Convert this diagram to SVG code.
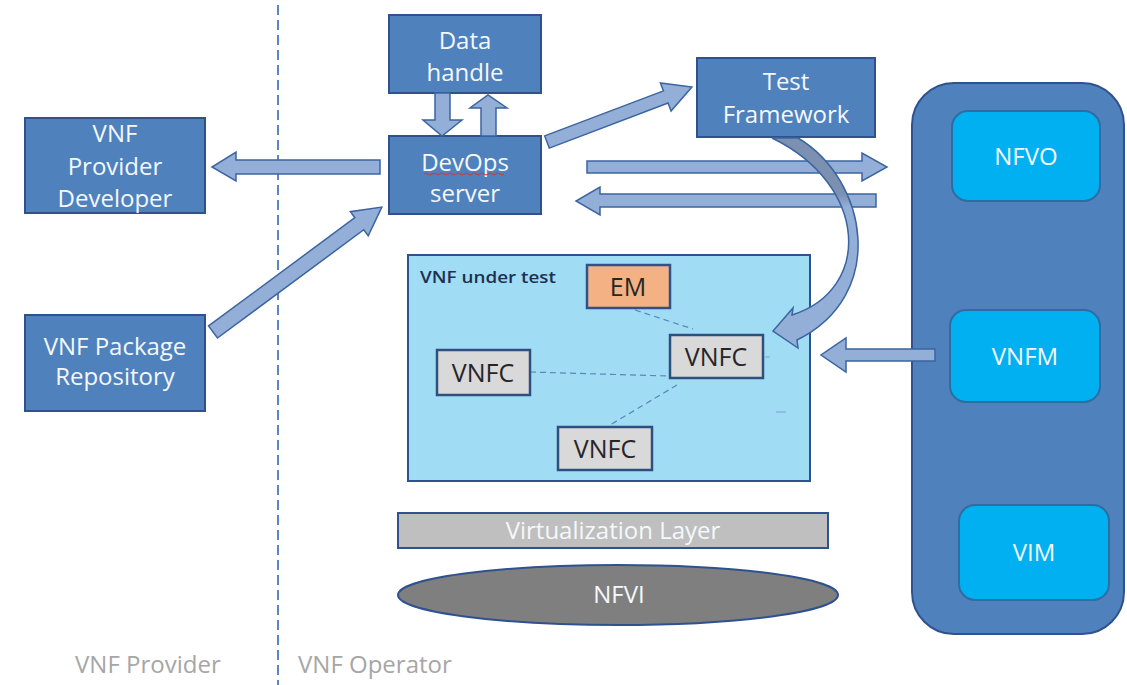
<svg xmlns="http://www.w3.org/2000/svg" width="1127" height="685" viewBox="0 0 1127 685">
<defs>
<style>
.box{fill:#4F81BD;stroke:#2F528F;stroke-width:2}
.mgmt{fill:#00B0F0;stroke:#2E6DA4;stroke-width:2}
.vnfc{fill:#D9D9D9;stroke:#2F4F7F;stroke-width:2.5}
.arr{fill:#93AFD8;stroke:#3C64A0;stroke-width:1.5;stroke-linejoin:miter}
.wt{font-family:"Open Sans","Liberation Sans",sans-serif;font-size:24px;fill:#F4F8FC;text-anchor:middle}
.dk{font-family:"Open Sans","Liberation Sans",sans-serif;font-size:25px;fill:#262626;text-anchor:middle}
.zone{font-family:"Open Sans","Liberation Sans",sans-serif;font-size:24px;fill:#A6A6A6}
.dash{stroke:#5B86B8;stroke-width:1.2;stroke-dasharray:6,4;fill:none}
</style>
<linearGradient id="curveFill" gradientUnits="userSpaceOnUse" x1="0" y1="138" x2="0" y2="348">
<stop offset="0" stop-color="#7C91B2"/>
<stop offset="0.27" stop-color="#7C91B2"/>
<stop offset="0.33" stop-color="#93AFD8"/>
<stop offset="1" stop-color="#93AFD8"/>
</linearGradient>
</defs>
<rect width="1127" height="685" fill="#FFFFFF"/>

<g id="zones">
<line x1="278" y1="5" x2="278" y2="685" stroke="#5B86C0" stroke-width="2" stroke-dasharray="10,5"/>
<text class="zone" x="75" y="673">VNF Provider</text>
<text class="zone" x="298" y="673">VNF Operator</text>
</g>

<g id="mgmt-panel">
<rect x="912" y="83" width="212" height="551" rx="42" fill="#4F81BD" stroke="#2F528F" stroke-width="2"/>
</g>
<g id="nfvo"><rect class="mgmt" x="952" y="111" width="148" height="90" rx="16"/><text class="wt" x="1026" y="165">NFVO</text></g>
<g id="vnfm"><rect class="mgmt" x="950" y="310" width="150" height="92" rx="16"/><text class="wt" x="1025" y="365">VNFM</text></g>
<g id="vim"><rect class="mgmt" x="959" y="505" width="150" height="95" rx="16"/><text class="wt" x="1034" y="561">VIM</text></g>

<g id="vnf-provider-developer">
<rect class="box" x="25" y="118" width="180" height="95"/>
<text class="wt" x="115" y="142">VNF</text>
<text class="wt" x="115" y="175">Provider</text>
<text class="wt" x="115" y="207">Developer</text>
</g>
<g id="vnf-package-repository">
<rect class="box" x="25" y="315" width="180" height="96"/>
<text class="wt" x="115" y="355">VNF Package</text>
<text class="wt" x="115" y="385">Repository</text>
</g>
<g id="data-handle">
<rect class="box" x="389" y="15" width="152" height="78"/>
<text class="wt" x="465" y="49">Data</text>
<text class="wt" x="465" y="81">handle</text>
</g>
<g id="devops-server">
<rect class="box" x="389" y="136" width="152" height="78"/>
<text class="wt" x="465" y="171">DevOps</text>
<path d="M424,174 q2,-2 4,0 t4,0 t4,0 t4,0 t4,0 t4,0 t4,0 t4,0 t4,0 t4,0 t4,0 t4,0 t4,0 t4,0 t4,0 t4,0 t4,0 t4,0 t4,0 t4,0" fill="none" stroke="#E03030" stroke-width="1"/>
<text class="wt" x="465" y="202">server</text>
</g>
<g id="test-framework">
<rect class="box" x="697" y="58" width="178" height="79"/>
<text class="wt" x="786" y="90">Test</text>
<text class="wt" x="786" y="123">Framework</text>
</g>

<g id="vnf-under-test">
<rect x="408" y="255" width="402" height="226" fill="#A0DDF5" stroke="#2F528F" stroke-width="2"/>
<text x="420" y="283" font-family="'Open Sans','Liberation Sans',sans-serif" font-size="17" font-weight="600" fill="#1F3050" textLength="136" lengthAdjust="spacingAndGlyphs">VNF under test</text>
</g>
<g id="vnfc-links">
<line class="dash" x1="635" y1="310" x2="693" y2="329"/>
<line class="dash" x1="530" y1="372" x2="668" y2="376"/>
<line class="dash" x1="677" y1="385" x2="610" y2="425"/>
<line x1="765" y1="357" x2="770" y2="357" stroke="#7FA0C8" stroke-width="1"/>
<line x1="776" y1="412" x2="786" y2="412" stroke="#7FA0C8" stroke-width="1"/>
</g>
<g id="em"><rect x="587" y="265" width="83" height="43" fill="#F4B183" stroke="#2F528F" stroke-width="2.5"/><text class="dk" x="628" y="296">EM</text></g>
<g id="vnfc-1"><rect class="vnfc" x="670" y="335" width="93" height="43"/><text class="dk" x="716" y="366">VNFC</text></g>
<g id="vnfc-2"><rect class="vnfc" x="437" y="350" width="93" height="45"/><text class="dk" x="483" y="382">VNFC</text></g>
<g id="vnfc-3"><rect class="vnfc" x="558" y="427" width="94" height="43"/><text class="dk" x="605" y="458">VNFC</text></g>

<g id="virtualization-layer">
<rect x="398" y="513" width="430" height="35" fill="#BFBFBF" stroke="#2F528F" stroke-width="2"/>
<text class="wt" x="613" y="539">Virtualization Layer</text>
</g>
<g id="nfvi">
<ellipse cx="618" cy="595" rx="220" ry="30" fill="#7F7F7F" stroke="#2F528F" stroke-width="2"/>
<text class="wt" x="619" y="603">NFVI</text>
</g>

<g id="connectors">
<polygon class="arr" points="380,160 236,160 236,152 212,167 236,181 236,174 380,174"/>
<polygon class="arr" points="435,93 450,93 450,120 462,120 442,136 423,120 435,120"/>
<polygon class="arr" points="481,136 481,108 470,108 488,95 507,108 496,108 496,136"/>
<polygon class="arr" transform="translate(547,142) rotate(-20.77)" points="0,-6.5 127,-6.5 127,-15 155,0 127,15 127,6.5 0,6.5"/>
<polygon class="arr" transform="translate(213,332) rotate(-36.5)" points="0,-7.5 182,-7.5 182,-15 210,0 182,15 182,7.5 0,7.5"/>
<polygon class="arr" points="587,161 862,161 862,153 887,167 862,181 862,173 587,173"/>
<polygon class="arr" points="876,194 600,194 600,187 576,201 600,215 600,207 876,207"/>
<polygon class="arr" points="935,349 846,349 846,338 821,355 846,372 846,361 935,361"/>
<path d="M772,138 L798,138 C868,180 888,295 797,340 L798,348 L773,331 L793,308 L792,315 C872,290 869,185 772,138 Z" fill="url(#curveFill)" stroke="#3C64A0" stroke-width="1.5"/>
</g>
</svg>
